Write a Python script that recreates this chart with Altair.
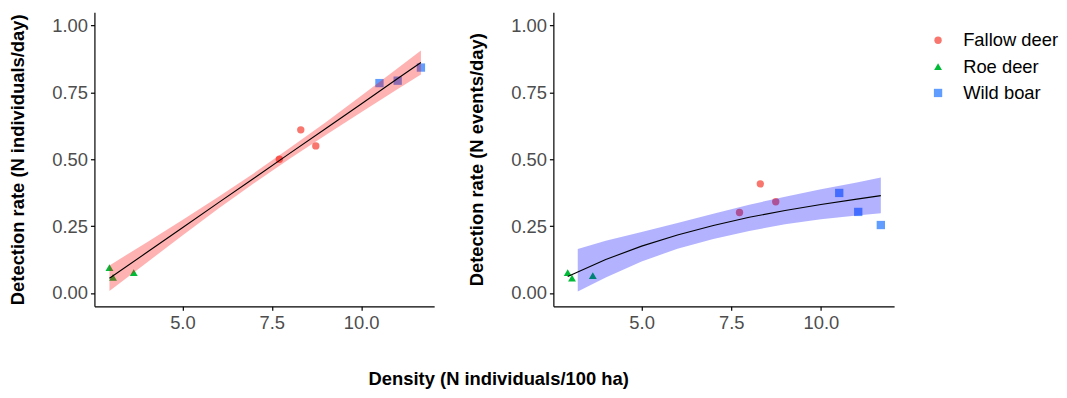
import altair as alt
import pandas as pd

FONT = "Liberation Sans"

species_order = ["Fallow deer", "Roe deer", "Wild boar"]
species_colors = ["#F8766D", "#00BA38", "#619CFF"]
species_shapes = ["circle", "triangle-up", "square"]
species_sizes = [55, 70, 50]

# observed points
species = ["Fallow deer", "Fallow deer", "Fallow deer",
           "Roe deer", "Roe deer", "Roe deer",
           "Wild boar", "Wild boar", "Wild boar"]
density_a = [7.71, 8.31, 8.73, 2.96, 3.06, 3.64, 10.51, 11.02, 11.67]
rate_a = [0.500, 0.610, 0.550, 0.095, 0.058, 0.076, 0.785, 0.794, 0.843]
density_b = [7.73, 8.31, 8.74, 2.94, 3.06, 3.64, 10.51, 11.04, 11.67]
rate_b = [0.301, 0.408, 0.341, 0.076, 0.055, 0.065, 0.374, 0.303, 0.254]

# fitted curve and confidence band, left panel
fit_x_a = [2.96, 4.0, 5.0, 6.0, 7.0, 8.0, 9.0, 10.0, 11.0, 11.67]
fit_a = [0.055, 0.151, 0.244, 0.337, 0.429, 0.522, 0.614, 0.707, 0.800, 0.862]
lo_a = [0.007, 0.113, 0.215, 0.315, 0.410, 0.502, 0.590, 0.676, 0.761, 0.817]
hi_a = [0.103, 0.189, 0.273, 0.359, 0.448, 0.542, 0.638, 0.738, 0.839, 0.907]

# fitted curve and confidence band, right panel
fit_x_b = [2.94, 3.22, 4.0, 5.0, 6.0, 7.0, 8.0, 9.0, 10.0, 11.0, 11.67]
fit_b = [0.061, 0.078, 0.125, 0.175, 0.217, 0.252, 0.283, 0.308, 0.331, 0.351, 0.364]
band_x_b = [3.22, 4.0, 5.0, 6.0, 7.0, 8.0, 9.0, 10.0, 11.0, 11.67]
lo_b = [0.005, 0.058, 0.118, 0.165, 0.202, 0.232, 0.257, 0.276, 0.290, 0.298]
hi_b = [0.164, 0.195, 0.228, 0.262, 0.296, 0.330, 0.360, 0.388, 0.413, 0.432]

x_ticks = [5.0, 7.5, 10.0]
y_ticks = [0.0, 0.25, 0.5, 0.75, 1.0]

legend = alt.Legend(
    title=None, orient="none", legendX=840, legendY=19,
    labelFont=FONT, labelFontSize=18.5, labelColor="black",
    symbolSize=40, labelOffset=16, rowPadding=7.5, padding=0,
    symbolStrokeWidth=0,
)
color_scale = alt.Scale(domain=species_order, range=species_colors)
shape_scale = alt.Scale(domain=species_order, range=species_shapes)
size_scale = alt.Scale(domain=species_order, range=species_sizes)

xscale = alt.Scale(domain=[2.54, 12.04], nice=False, zero=False)
yscale = alt.Scale(domain=[-0.05, 1.05], nice=False, zero=False)


def panel(dens, rate, fx, fy, bx, blo, bhi, band_color, ytitle, width):
    xaxis = alt.Axis(values=x_ticks, format=".1f", title=None)
    yaxis = alt.Axis(values=y_ticks, format=".2f", title=ytitle)
    pts = pd.DataFrame({"density": dens, "rate": rate, "species": species})
    fit = pd.DataFrame({"density": fx, "rate": fy})
    band = pd.DataFrame({"density": bx, "lo": blo, "hi": bhi})
    points = alt.Chart(pts).mark_point(filled=True, opacity=1).encode(
        x=alt.X("density:Q", scale=xscale, axis=xaxis),
        y=alt.Y("rate:Q", scale=yscale, axis=yaxis),
        color=alt.Color("species:N", scale=color_scale, legend=legend),
        shape=alt.Shape("species:N", scale=shape_scale, legend=legend),
        size=alt.Size("species:N", scale=size_scale, legend=None),
    )
    area = alt.Chart(band).mark_area(color=band_color, opacity=0.3).encode(
        x=alt.X("density:Q", scale=xscale, axis=xaxis),
        y=alt.Y("lo:Q", scale=yscale, axis=yaxis),
        y2="hi:Q",
    )
    line = alt.Chart(fit).mark_line(color="black", strokeWidth=1.1).encode(
        x=alt.X("density:Q", scale=xscale, axis=xaxis),
        y=alt.Y("rate:Q", scale=yscale, axis=yaxis),
    )
    return alt.layer(points, area, line).properties(width=width, height=296)


left = panel(density_a, rate_a, fit_x_a, fit_a, fit_x_a, lo_a, hi_a,
             "red", "Detection rate (N individuals/day)", 342)
right = panel(density_b, rate_b, fit_x_b, fit_b, band_x_b, lo_b, hi_b,
              "blue", "Detection rate (N events/day)", 343)

chart = alt.hconcat(left, right, spacing=33).properties(
    title=alt.TitleParams(
        "Density (N individuals/100 ha)", orient="bottom", anchor="start",
        frame="group", dx=276, offset=39, font=FONT, fontSize=18.5,
        fontWeight="bold", color="black",
    ),
    padding={"left": 0, "top": 3, "right": 0, "bottom": 0},
).configure_view(strokeWidth=0).configure_axis(
    grid=False, domainColor="black", domainWidth=1.2, tickColor="black",
    tickWidth=1.2, tickSize=4, labelFont=FONT, labelFontSize=18.5,
    labelColor="#4D4D4D", labelPadding=3, titleFont=FONT, titleFontSize=18.5,
    titleFontWeight="bold", titleColor="black", titlePadding=24,
)

chart.save("out.html", embed_options={"renderer": "svg", "actions": False})
